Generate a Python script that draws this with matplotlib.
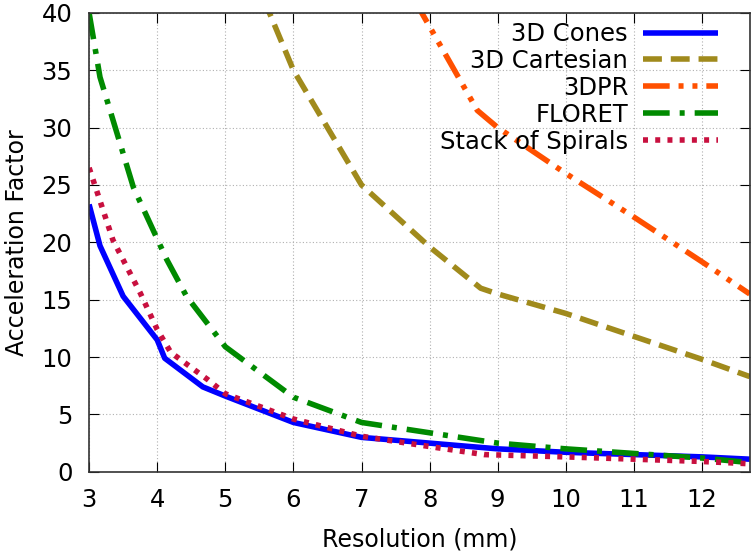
import numpy as np
import matplotlib.pyplot as plt

# Daten
cones_x = [3.0, 3.16, 3.5, 4.0, 4.11, 4.67, 5.0, 6.0, 7.0, 8.0, 9.0, 10.0, 11.0, 12.0, 12.7]
cones_y = [23.3, 19.7, 15.3, 11.5, 9.9, 7.4, 6.6, 4.3, 3.0, 2.5, 2.0, 1.7, 1.5, 1.3, 1.1]

cart_x = [5.5, 6.0, 7.0, 8.0, 8.75, 9.0, 10.0, 11.0, 12.0, 12.7]
cart_y = [42.1, 35.0, 25.0, 19.6, 16.0, 15.5, 13.8, 11.8, 9.8, 8.3]

pr_x = [7.5, 8.0, 8.7, 9.0, 10.0, 11.0, 12.0, 12.7]
pr_y = [44.0, 38.8, 31.5, 30.0, 26.0, 22.2, 18.3, 15.5]

floret_x = [3.0, 3.16, 3.65, 4.14, 4.43, 5.0, 6.0, 7.0, 8.0, 9.0, 10.0, 11.0, 12.0, 12.7]
floret_y = [40.0, 34.4, 24.8, 18.5, 15.3, 10.9, 6.5, 4.3, 3.4, 2.5, 2.0, 1.6, 1.2, 0.8]

sos_x = [3.0, 3.35, 3.75, 4.0, 4.2, 4.75, 5.0, 6.0, 7.0, 8.0, 8.8, 10.0, 11.0, 12.0, 12.7]
sos_y = [26.5, 20.2, 15.6, 12.4, 10.4, 8.0, 6.8, 4.6, 3.1, 2.2, 1.5, 1.3, 1.1, 0.9, 0.7]

plt.rcParams['font.family'] = ['DejaVu Sans']

fig = plt.figure(figsize=(7.55, 5.59), dpi=100)
ax = fig.add_axes([0.118, 0.156, 0.875, 0.821])

lw = 4
ax.plot(cones_x, cones_y, color='#0000ff', lw=lw, label='3D Cones', solid_capstyle='butt')
ax.plot(cart_x, cart_y, color='#a08a1c', lw=lw, label='3D Cartesian',
        dashes=(3.4, 1.6), dash_capstyle='butt')
ax.plot(pr_x, pr_y, color='#ff5000', lw=lw, label='3DPR',
        dashes=(4.8, 1.6, 0.9, 1.6, 0.9, 1.6), dash_capstyle='butt')
ax.plot(floret_x, floret_y, color='#008a00', lw=lw, label='FLORET',
        dashes=(4.8, 1.8, 0.9, 1.8), dash_capstyle='butt')
ax.plot(sos_x, sos_y, color='#c8103f', lw=lw, label='Stack of Spirals',
        dashes=(0.9, 1.3), dash_capstyle='butt')

ax.set_xlim(3, 12.7)
ax.set_ylim(0, 40)
ax.set_xticks(range(3, 13))
ax.set_yticks(range(0, 41, 5))
ax.tick_params(direction='in', top=True, right=True, labelsize=17.5, length=7, pad=12)
ax.grid(True, linestyle=(0, (1, 2)), color='#b0b0b0', linewidth=0.8)
for s in ax.spines.values():
    s.set_linewidth(1.2)
    s.set_color('#333333')

ax.set_xlabel('Resolution (mm)', fontsize=17, labelpad=11)
ax.set_ylabel('Acceleration Factor', fontsize=17, labelpad=9)

# Legende wie bei gnuplot: Text rechtsbündig, Linie rechts daneben
ax.legend(loc='upper right', bbox_to_anchor=(0.952, 0.98), frameon=False,
          markerfirst=False, fontsize=17.5, handlelength=3.1, labelspacing=0.12,
          borderaxespad=0, borderpad=0, handletextpad=0.6)

fig.savefig('out.png', dpi=100)
